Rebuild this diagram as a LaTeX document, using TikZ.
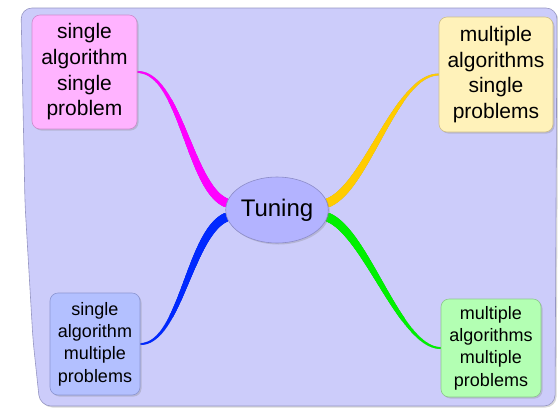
\documentclass[tikz,border=0pt]{standalone}
\usepackage{fontspec}
\setmainfont{Liberation Sans}
\usetikzlibrary{shapes.geometric,shadows,decorations.markings}

\definecolor{paper}{RGB}{204,204,250}
\definecolor{paperline}{RGB}{150,150,195}
\definecolor{pinkfill}{RGB}{255,179,255}
\definecolor{pinkline}{RGB}{205,140,205}
\definecolor{yellowfill}{RGB}{255,242,186}
\definecolor{yellowline}{RGB}{205,190,140}
\definecolor{bluefill}{RGB}{179,192,255}
\definecolor{blueline}{RGB}{140,150,210}
\definecolor{greenfill}{RGB}{179,255,179}
\definecolor{greenline}{RGB}{140,200,140}
\definecolor{hubfill}{RGB}{179,179,255}
\definecolor{hubline}{RGB}{140,140,200}
\definecolor{wmagenta}{RGB}{255,0,255}
\definecolor{wyellow}{RGB}{255,204,0}
\definecolor{wblue}{RGB}{0,40,255}
\definecolor{wgreen}{RGB}{0,240,0}

\pgfdeclarelayer{paperlayer}
\pgfdeclarelayer{wirelayer}
\pgfsetlayers{paperlayer,wirelayer,main}

\tikzset{
  softshadow/.style={drop shadow={shadow xshift=1.5pt,shadow yshift=-1.5pt,opacity=0.3}},
  box/.style={rounded corners=8pt, align=center, inner sep=0pt, line width=0.6pt, softshadow},
  bigtext/.style={font=\fontsize{21}{25.7}\selectfont},
  smalltext/.style={font=\fontsize{18}{22.3}\selectfont},
  % tapered branch: thin at the leaf, thick at the hub
  branch/.style={decorate, decoration={markings,
    mark=between positions 0 and 1 step 0.004 with {%
      \pgfmathsetmacro\brr{1+3.6*\pgfkeysvalueof{/pgf/decoration/mark info/distance from start}/\pgfdecoratedpathlength}%
      \fill[#1] (0,0) circle[radius=\brr pt];}}},
}

\newcommand\allbranches[4]{%
  \path[branch=#1] (pk.east) .. controls +(43,0) and +(-37,-14) .. (tun.172);
  \path[branch=#2] (ye.west) .. controls +(-43,0) and +(39,-14) .. (tun.8);
  \path[branch=#3] (bl.east) .. controls +(40,0) and +(-37,15) .. (tun.188);
  \path[branch=#4] (gr.west) .. controls +(-41,0) and +(39,15) .. (tun.352);
}

\begin{document}
\begin{tikzpicture}[x=1pt,y=-1pt]
\useasboundingbox (0,0) rectangle (558,408);

% paper sheet
\begin{pgfonlayer}{paperlayer}
\path[fill=paper, draw=paperline, line width=0.6pt, rounded corners=11pt, softshadow]
  (21,8) -- (557,8) -- (555,406) -- (40,406) -- (33,340) -- (25,204) -- cycle;
\end{pgfonlayer}

% hub and leaves
\node[ellipse, fill=hubfill, draw=hubline, line width=0.6pt, minimum width=101pt,
      minimum height=66pt, inner sep=0pt, font=\fontsize{24}{28}\selectfont, softshadow]
      (tun) at (277,210) {Tuning};
\node[box, fill=pinkfill, draw=pinkline, minimum width=105pt, minimum height=114pt, bigtext]
      (pk) at (84.5,72) {single\\algorithm\\single\\problem};
\node[box, fill=yellowfill, draw=yellowline, minimum width=114pt, minimum height=115pt, bigtext]
      (ye) at (496,74.5) {multiple\\algorithms\\single\\problems};
\node[box, fill=bluefill, draw=blueline, minimum width=90pt, minimum height=102pt, smalltext]
      (bl) at (95,344) {single\\algorithm\\multiple\\problems};
\node[box, fill=greenfill, draw=greenline, minimum width=100pt, minimum height=98pt, smalltext]
      (gr) at (491,348) {multiple\\algorithms\\multiple\\problems};

% branches with their shadow
\begin{pgfonlayer}{wirelayer}
\begin{scope}[transparency group, opacity=0.22, shift={(1.5,1.5)}]
  \allbranches{black}{black}{black}{black}
\end{scope}
\allbranches{wmagenta}{wyellow}{wblue}{wgreen}
\end{pgfonlayer}
\end{tikzpicture}
\end{document}
